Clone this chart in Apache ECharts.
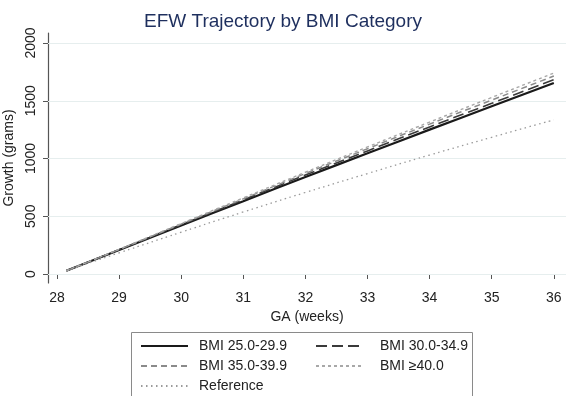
<!DOCTYPE html>
<html>
<head>
<meta charset="utf-8">
<script src="https://cdn.jsdelivr.net/npm/echarts@6/dist/echarts.min.js"></script>
<style>
  html, body { margin: 0; padding: 0; background: #fff; }
  #chart { width: 566px; height: 396px; }
</style>
</head>
<body>
<div id="chart"></div>
<script>
// GA (weeks) at which the fitted curves were read
var ga = [28.15, 29, 30, 31, 32, 33, 34, 35, 36];

// estimated fetal weight growth (grams)
var bmi25 = [28, 207, 420, 630, 840, 1045, 1250, 1452, 1654];
var bmi30 = [28, 210, 427, 642, 857, 1066, 1274, 1478, 1682];
var bmi35 = [28, 212, 432, 651, 870, 1085, 1298, 1506, 1714];
var bmi40 = [28, 214, 437, 659, 881, 1100, 1316, 1529, 1740];
var reference = [28, 183, 362, 537, 706, 870, 1030, 1184, 1335];

var xTicks = [28, 29, 30, 31, 32, 33, 34, 35, 36];
var yTicks = [0, 500, 1000, 1500, 2000];

var chart = echarts.init(document.getElementById('chart'));

function pairs(vals) {
  return ga.map((g, i) => [g, vals[i]]);
}

function line(name, vals, color, width, dash) {
  return {
    name: name,
    type: 'line',
    data: pairs(vals),
    symbol: 'none',
    smooth: true,
    lineStyle: { color: color, width: width, type: dash },
    itemStyle: { color: color },
    z: 3
  };
}

var series = [
  line('BMI 25.0-29.9', bmi25, '#1a1a1a', 2.2, 'solid'),
  line('BMI 30.0-34.9', bmi30, '#3a3a3a', 1.6, [11, 5]),
  line('BMI 35.0-39.9', bmi35, '#8a8a8a', 1.5, [6, 4]),
  line('BMI ≥40.0', bmi40, '#a8a8a8', 1.4, [3, 3]),
  line('Reference', reference, '#9a9a9a', 1.3, [1.5, 3.5])
];

// light horizontal gridlines at the y ticks
series[0].markLine = {
  silent: true,
  symbol: 'none',
  label: { show: false },
  lineStyle: { color: '#e6eeee', width: 1, type: 'solid' },
  data: yTicks.map(v => ({ yAxis: v })),
  z: 1
};

var legendText = { fontFamily: 'Liberation Sans', fontSize: 14, color: '#222' };

function legendBlock(names, left, top, pad) {
  return {
    data: names,
    orient: 'vertical',
    left: left,
    top: top,
    height: 80,
    padding: 0,
    itemWidth: 47,
    itemHeight: 14,
    itemGap: 6,
    selectedMode: false,
    itemStyle: { opacity: 0 },
    textStyle: Object.assign({ padding: [0, 0, 0, pad] }, legendText)
  };
}

var option = {
  backgroundColor: '#fff',
  animation: false,
  title: {
    text: 'EFW Trajectory by BMI Category',
    left: 278,
    top: 7,
    textAlign: 'center',
    textStyle: { fontFamily: 'Liberation Sans', fontSize: 19, fontWeight: 'normal', color: '#1e2f5e' }
  },
  grid: { left: 48, right: 0, top: 33, bottom: 113, outerBoundsMode: 'none' },
  xAxis: {
    type: 'value',
    min: 27.855,
    max: 36.196,
    name: 'GA (weeks)',
    nameLocation: 'middle',
    nameGap: 27,
    nameTextStyle: { fontFamily: 'Liberation Sans', fontSize: 14, color: '#222' },
    axisLine: { lineStyle: { color: '#555', width: 1.2 } },
    axisTick: { show: true, length: 5, customValues: xTicks, lineStyle: { color: '#555' } },
    axisLabel: { customValues: xTicks, margin: 8, fontFamily: 'Liberation Sans', fontSize: 14, color: '#222' },
    splitLine: { show: false }
  },
  yAxis: {
    type: 'value',
    min: -78,
    max: 2087,
    name: 'Growth (grams)',
    nameLocation: 'middle',
    nameRotate: 90,
    nameGap: 26,
    nameTextStyle: { fontFamily: 'Liberation Sans', fontSize: 14, color: '#222' },
    axisLine: { show: true, lineStyle: { color: '#555', width: 1.2 } },
    axisTick: { show: true, length: 5, customValues: yTicks, lineStyle: { color: '#555' } },
    axisLabel: {
      customValues: yTicks,
      rotate: 90,
      margin: 10,
      formatter: v => String(v),
      fontFamily: 'Liberation Sans',
      fontSize: 14,
      color: '#222'
    },
    splitLine: { show: false }
  },
  legend: [
    legendBlock(['BMI 25.0-29.9', 'BMI 35.0-39.9'], 140, 339, 6),
    legendBlock(['BMI 30.0-34.9', 'BMI ≥40.0'], 315, 339, 12),
    legendBlock(['Reference'], 140, 379, 6)
  ],
  graphic: [
    {
      type: 'rect',
      shape: { x: 131.5, y: 332.5, width: 341, height: 70 },
      style: { fill: 'none', stroke: '#8a8a8a', lineWidth: 1 },
      silent: true
    }
  ],
  series: series
};

chart.setOption(option);
</script>
</body>
</html>
